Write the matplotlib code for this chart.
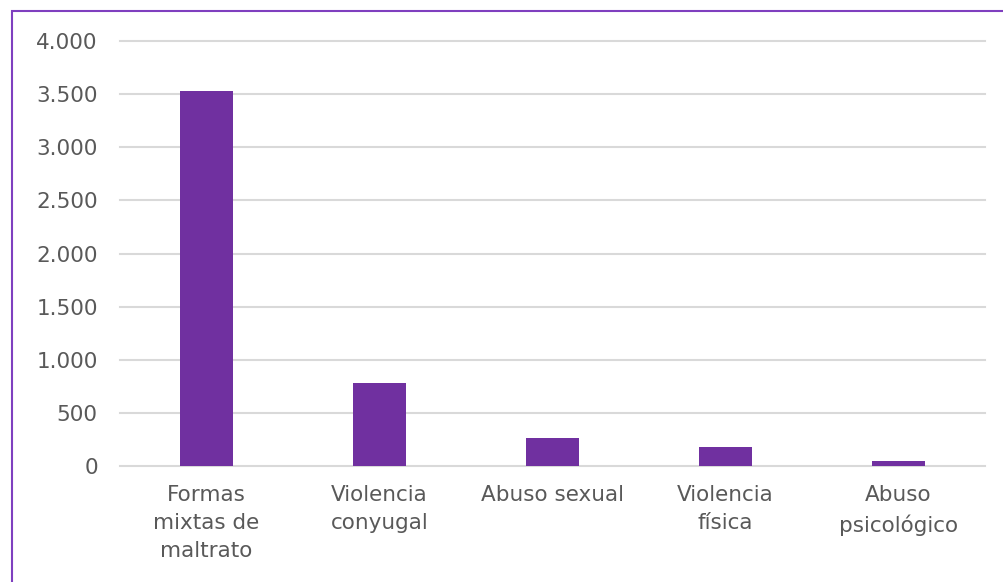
import matplotlib.pyplot as plt
from matplotlib.patches import Rectangle
from matplotlib.ticker import FuncFormatter

categories = ["Formas\nmixtas de\nmaltrato", "Violencia\nconyugal", "Abuso sexual",
              "Violencia\nfísica", "Abuso\npsicológico"]
values = [3530, 782, 263, 180, 48]
yticks = [0, 500, 1000, 1500, 2000, 2500, 3000, 3500, 4000]

plt.rcParams['font.family'] = ['DejaVu Sans']

fig = plt.figure(figsize=(10.04, 5.82), dpi=100)
ax = fig.add_axes([120/1004, 1-466/582, 865/1004, 425/582])

x = range(len(categories))
ax.bar(x, values, width=0.31, color='#7030A0', zorder=3)

ax.set_xlim(-0.5, len(categories)-0.5)
ax.set_ylim(0, 4000)
ax.set_yticks(yticks)
ax.yaxis.set_major_formatter(FuncFormatter(lambda v, p: f"{int(v):,}".replace(",", ".")))
ax.set_xticks(list(x))
ax.set_xticklabels(categories, linespacing=1.5)

ax.grid(axis='y', color='#D9D9D9', linewidth=1.5, zorder=0)
for gl in ax.get_ygridlines():
    gl.set_clip_on(False)
for s in ax.spines.values():
    s.set_visible(False)
ax.tick_params(axis='both', length=0, labelsize=15.5, labelcolor='#595959')
ax.tick_params(axis='y', pad=16)
ax.tick_params(axis='x', pad=14)

# purple frame around the chart
fig.patches.append(Rectangle((12/1004, -0.1), 1.2, 1-11/582+0.1, transform=fig.transFigure,
                             fill=False, edgecolor='#7F3FBF', linewidth=1.5))

fig.savefig("out.png", dpi=100)
